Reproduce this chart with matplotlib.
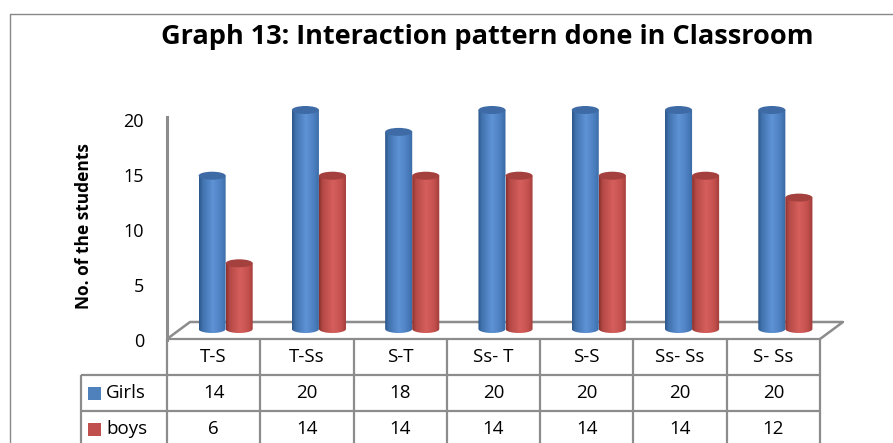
import matplotlib
matplotlib.use("Agg")
import matplotlib.pyplot as plt
import numpy as np
from matplotlib.patches import Ellipse, PathPatch
from matplotlib.path import Path
from matplotlib.lines import Line2D
from matplotlib.colors import to_rgb

plt.rcParams['font.family'] = ['Open Sans', 'DejaVu Sans']

categories = ['T-S', 'T-Ss', 'S-T', 'Ss- T', 'S-S', 'Ss- Ss', 'S- Ss']
girls = [14, 20, 18, 20, 20, 20, 20]
boys = [6, 14, 14, 14, 14, 14, 12]
series_names = ['Girls', 'boys']
y_ticks = [0, 5, 10, 15, 20]
title = 'Graph 13: Interaction pattern done in Classroom'
y_label = 'No. of the students'

W, H = 893, 443
PX = 10.95  # pixels per unit on the bar plane
GRAY = '#8c8c8c'


def fx(x):
    return x / W


def fy(y):
    return 1 - y / H


def line_px(fig, xs, ys, lw=1.6, z=-1, color=GRAY):
    fig.add_artist(Line2D([fx(x) for x in xs], [fy(y) for y in ys],
                          transform=fig.transFigure, color=color, lw=lw,
                          zorder=z, solid_capstyle='butt'))


def gradient(stops, cols, n=64):
    t = np.linspace(0, 1, n)
    rgb = np.array([to_rgb(c) for c in cols])
    return np.stack([np.interp(t, stops, rgb[:, k]) for k in range(3)], axis=-1)[None, :, :]


def cylinder(ax, cx, width, value, grad, top_color, eh):
    x0, x1 = cx - width / 2, cx + width / 2
    th = np.linspace(np.pi, 2 * np.pi, 40)
    arc = np.column_stack([cx + width / 2 * np.cos(th), eh * np.sin(th)])
    verts = np.vstack([[x0, value], arc, [x1, value], [x0, value]])
    codes = [Path.MOVETO] + [Path.LINETO] * (len(verts) - 2) + [Path.CLOSEPOLY]
    clip = PathPatch(Path(verts, codes), transform=ax.transData, fc='none', ec='none')
    ax.add_patch(clip)
    im = ax.imshow(grad, extent=[x0, x1, -eh, value], aspect='auto',
                   interpolation='bilinear', zorder=2)
    im.set_clip_path(clip)
    ax.add_patch(Ellipse((cx, value), width, 2 * eh, fc=top_color, ec='none', zorder=3))


fig = plt.figure(figsize=(W / 100, H / 100), dpi=100)
fig.patch.set_facecolor('white')

# outer chart border
line_px(fig, [9.5, 9.5, 900], [460, 13.5, 13.5], lw=1.0, color='#888888')

# 3D floor
line_px(fig, [167, 190, 843, 820], [339, 322, 322, 339], lw=1.8)

# bars
ylo, yhi = -0.6, 22
ax = fig.add_axes([fx(179), fy(329 + (-ylo) * PX), (832 - 179) / W, (yhi - ylo) * PX / H])
ax.set_xlim(-0.5, len(categories) - 0.5)
ax.set_ylim(ylo, yhi)
ax.axis('off')

blue_grad = gradient([0, 0.12, 0.5, 0.8, 1],
                     ['#2c5688', '#4071ad', '#5e93d6', '#4c7fc0', '#3a69a3'])
red_grad = gradient([0, 0.12, 0.5, 0.8, 1],
                    ['#8a302e', '#b24845', '#d65f5c', '#c4514e', '#a03c3a'])
bw = 0.29
eh = 4.0 / PX
xs = np.arange(len(categories))
for i in xs:
    cylinder(ax, i - bw / 2, bw, girls[i], blue_grad, '#3e6ba5', eh)
    cylinder(ax, i + bw / 2, bw, boys[i], red_grad, '#a4403d', eh)

# front value axis
axf = fig.add_axes([fx(167), fy(340), (820 - 167) / W, 22 * 11 / H])
axf.set_ylim(0, 22)
axf.set_xlim(0, 1)
axf.patch.set_visible(False)
for s in ['top', 'right', 'bottom']:
    axf.spines[s].set_visible(False)
axf.spines['left'].set_bounds(0, 20.3)
axf.spines['left'].set_color(GRAY)
axf.spines['left'].set_linewidth(2.2)
axf.set_xticks([])
axf.set_yticks(y_ticks)
axf.tick_params(axis='y', length=0, pad=16.5, labelsize=13)

fig.text(fx(84), fy(226), y_label, rotation=90, ha='center', va='center',
         fontsize=12.5, fontweight='bold')
fig.text(fx(487), fy(37), title, ha='center', va='center',
         fontsize=19.5, fontweight='bold')

# data table
col_edges = np.linspace(167, 820, len(categories) + 1)
row_edges = [339, 375, 411, 460]
lw_t = 1.6
for x in col_edges:
    line_px(fig, [x, x], [339, 460], lw=lw_t, z=1)
line_px(fig, [81, 81], [375, 460], lw=lw_t, z=1)
line_px(fig, [167, 820], [339, 339], lw=lw_t, z=1)
for y in row_edges[1:3]:
    line_px(fig, [81, 820], [y, y], lw=lw_t, z=1)

centers = (col_edges[:-1] + col_edges[1:]) / 2
for cx, lab in zip(centers, categories):
    fig.text(fx(cx), fy(357), lab, ha='center', va='center', fontsize=13.5)
rows = [girls, boys]
swatch = ['#4f81bd', '#c0504d']
row_y = [393, 429]
for r, (name, vals) in enumerate(zip(series_names, rows)):
    yc = row_y[r]
    fig.patches.append(plt.Rectangle((fx(88), fy(yc + 6.5)), 13 / W, 13 / H,
                                     transform=fig.transFigure, fc=swatch[r], ec='none'))
    fig.text(fx(106), fy(yc), name, ha='left', va='center', fontsize=13.5)
    for cx, v in zip(centers, vals):
        fig.text(fx(cx), fy(yc), str(v), ha='center', va='center', fontsize=13.5)

fig.savefig('out.png', dpi=100)
